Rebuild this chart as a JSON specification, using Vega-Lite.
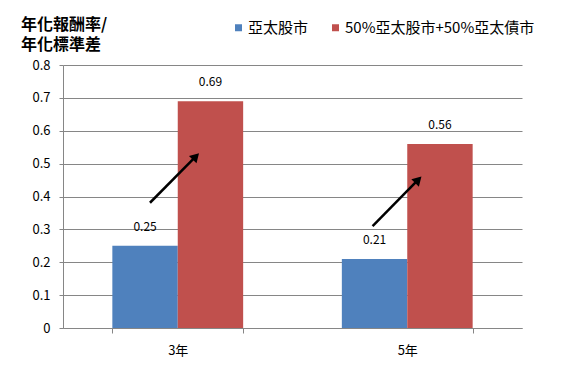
{
  "$schema": "https://vega.github.io/schema/vega-lite/v6.json",
  "width": 459,
  "height": 263,
  "autosize": {"type": "none"},
  "padding": {"left": 63, "top": 65, "right": 41, "bottom": 42},
  "background": "white",
  "config": {
    "view": {"stroke": null},
    "font": "Noto Sans CJK TC",
    "axisY": {
      "labelOverlap": false,
      "labelFontSize": 13,
      "labelColor": "black",
      "labelPadding": 9,
      "tickSize": 4,
      "tickColor": "#868686",
      "domainColor": "#868686",
      "gridColor": "#868686",
      "gridOpacity": 1
    }
  },
  "title": {
    "text": ["年化報酬率/", "年化標準差"],
    "anchor": "start",
    "frame": "group",
    "dx": -42,
    "dy": 45,
    "offset": 12,
    "fontSize": 16,
    "fontWeight": "bold",
    "lineHeight": 20,
    "color": "black",
    "font": "Noto Sans CJK TC"
  },
  "datasets": {
    "bars": [
      {"period": "3年", "series": "亞太股市", "value": 0.25},
      {"period": "3年", "series": "50%亞太股市+50%亞太債市", "value": 0.69},
      {"period": "5年", "series": "亞太股市", "value": 0.21},
      {"period": "5年", "series": "50%亞太股市+50%亞太債市", "value": 0.56}
    ],
    "arrows": [
      {"period": "3年", "x0": 0.379, "y0": 0.381, "x1": 0.579, "y1": 0.522, "hx": 0.579, "hy": 0.522},
      {"period": "5年", "x0": 1.349, "y0": 0.310, "x1": 1.548, "y1": 0.451, "hx": 1.548, "hy": 0.451}
    ]
  },
  "layer": [
    {
      "data": {"name": "bars"},
      "encoding": {
        "x": {
          "field": "period",
          "type": "nominal",
          "sort": ["3年", "5年"],
          "scale": {"type": "band", "paddingInner": 0.43, "paddingOuter": 0.215},
          "axis": {
            "title": null,
            "labelAngle": 0,
            "labelFontSize": 13,
            "labelColor": "black",
            "labelPadding": 11,
            "domainColor": "#868686",
            "tickColor": "#868686",
            "tickSize": 5,
            "tickBand": "extent",
            "grid": false
          }
        },
        "xOffset": {
          "field": "series",
          "type": "nominal",
          "sort": ["亞太股市", "50%亞太股市+50%亞太債市"],
          "scale": {"paddingInner": 0, "paddingOuter": 0}
        },
        "y": {
          "field": "value",
          "type": "quantitative",
          "title": null,
          "scale": {"domain": [0, 0.8]},
          "axis": {
            "values": [0, 0.1, 0.2, 0.3, 0.4, 0.5, 0.6, 0.7, 0.8],
            "labelOverlap": false,
            "labelExpr": "datum.value == 0 ? '0' : format(datum.value, '.1f')"
          }
        }
      },
      "layer": [
        {
          "mark": {"type": "bar"},
          "encoding": {
            "color": {
              "field": "series",
              "type": "nominal",
              "scale": {
                "domain": ["亞太股市", "50%亞太股市+50%亞太債市"],
                "range": ["#4F81BD", "#C0504D"]
              },
              "legend": {
                "title": null,
                "orient": "none",
                "legendX": 168,
                "legendY": -45,
                "direction": "horizontal",
                "columns": 2,
                "symbolType": "square",
                "symbolSize": 49,
                "symbolStrokeWidth": 0,
                "labelFontSize": 15,
                "labelColor": "black",
                "labelOffset": 2,
                "columnPadding": 19,
                "labelLimit": 400
              }
            }
          }
        },
        {
          "mark": {"type": "text", "baseline": "middle", "dy": -19, "fontSize": 12, "color": "black"},
          "encoding": {
            "text": {"field": "value", "type": "quantitative", "format": ".2f"}
          }
        }
      ]
    },
    {
      "data": {"name": "arrows"},
      "layer": [
        {
          "mark": {"type": "rule", "stroke": "black", "strokeWidth": 2.5},
          "encoding": {
            "x": {"field": "x0", "type": "quantitative", "scale": {"domain": [0, 2]}, "axis": null},
            "x2": {"field": "x1"},
            "y": {
              "field": "y0",
              "type": "quantitative",
              "title": null,
              "axis": {
                "values": [0, 0.1, 0.2, 0.3, 0.4, 0.5, 0.6, 0.7, 0.8],
                "labelOverlap": false,
                "labelExpr": "datum.value == 0 ? '0' : format(datum.value, '.1f')"
              }
            },
            "y2": {"field": "y1"}
          }
        },
        {
          "mark": {"type": "point", "shape": "triangle-up", "filled": true, "color": "black", "opacity": 1, "size": 110, "angle": 44},
          "encoding": {
            "x": {"field": "hx", "type": "quantitative", "scale": {"domain": [0, 2]}, "axis": null},
            "y": {
              "field": "hy",
              "type": "quantitative",
              "title": null,
              "axis": {
                "values": [0, 0.1, 0.2, 0.3, 0.4, 0.5, 0.6, 0.7, 0.8],
                "labelOverlap": false,
                "labelExpr": "datum.value == 0 ? '0' : format(datum.value, '.1f')"
              }
            }
          }
        }
      ]
    }
  ],
  "resolve": {"scale": {"x": "independent"}}
}
